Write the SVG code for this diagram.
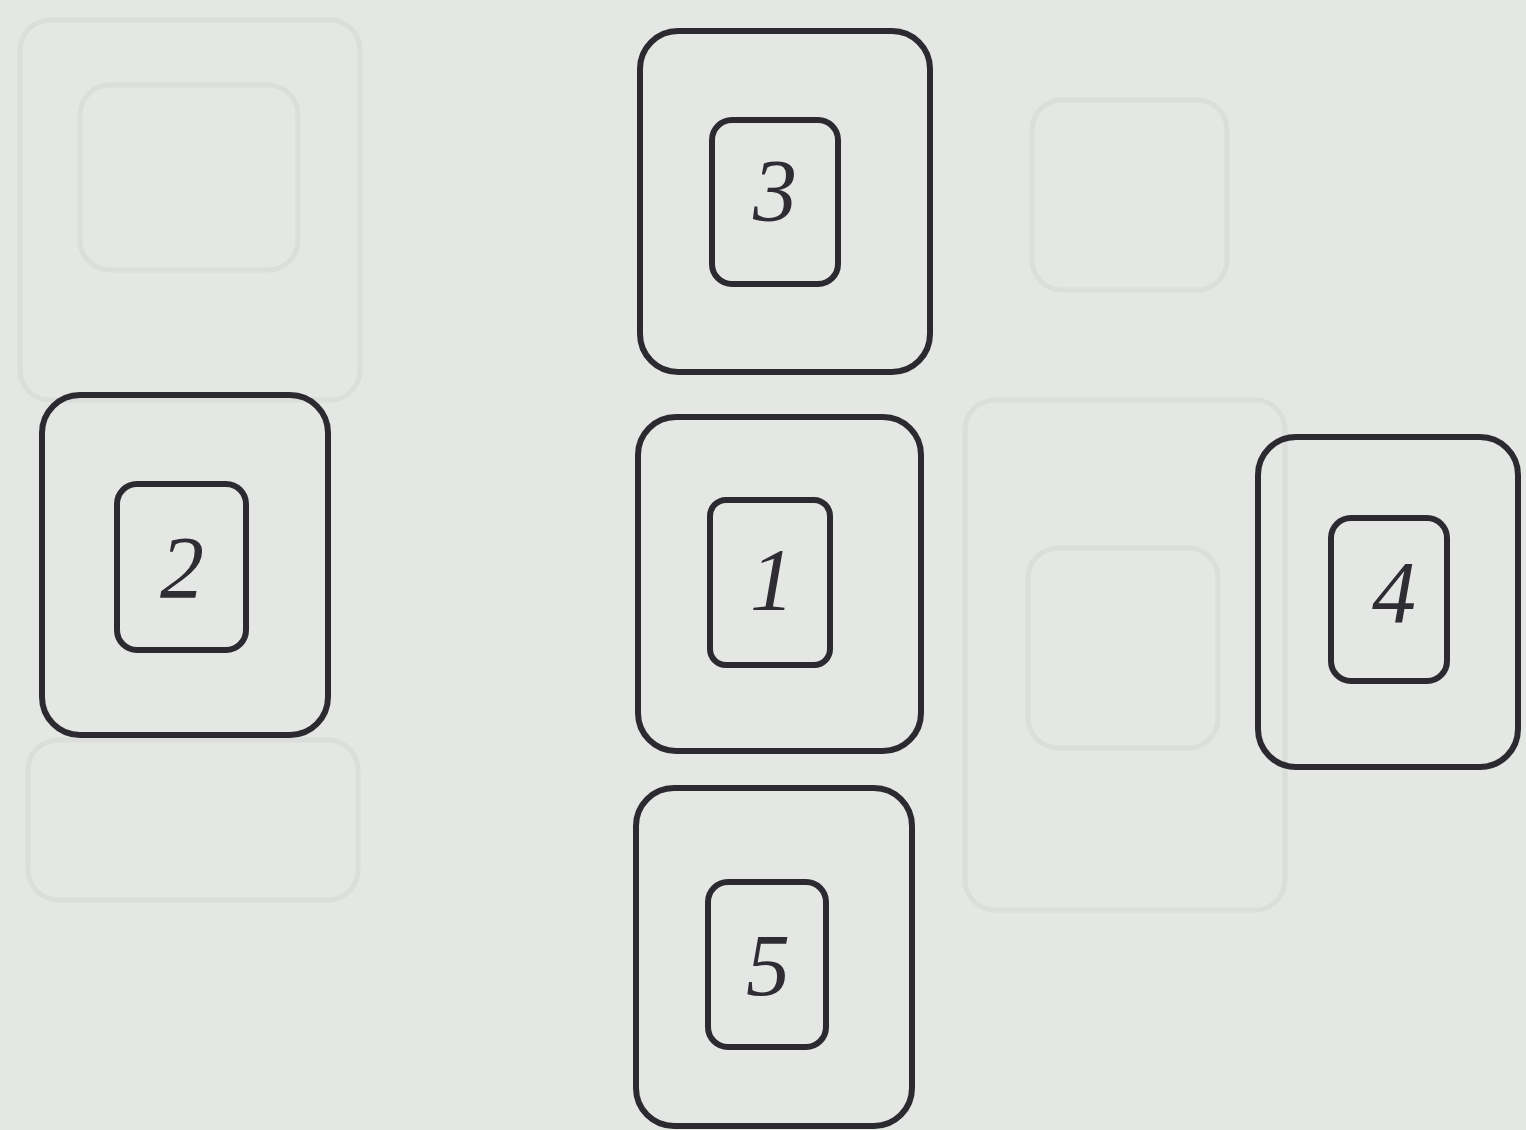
<svg xmlns="http://www.w3.org/2000/svg" width="1526" height="1130" viewBox="0 0 1526 1130">
<style>
.bg{fill:#e5e7e5}
.ghost{fill:none;stroke:#dcdedc;stroke-width:5}
.outer{fill:none;stroke:#2c2a30;stroke-width:6}
.inner{fill:none;stroke:#2c2a30;stroke-width:6}
.num{font-family:"Liberation Serif",serif;font-style:italic;font-size:88px;fill:#2f2c33;text-anchor:middle}
</style>
<rect class="bg" x="0" y="0" width="1526" height="1130"/>
<g id="ghosts">
<rect class="ghost" x="80" y="85" width="218" height="185" rx="30"/>
<rect class="ghost" x="1032" y="100" width="195" height="190" rx="30"/>
<rect class="ghost" x="1028" y="548" width="190" height="200" rx="30"/>
<rect class="ghost" x="20" y="20" width="340" height="380" rx="30"/>
<rect class="ghost" x="28" y="740" width="330" height="160" rx="30"/>
<rect class="ghost" x="965" y="400" width="320" height="510" rx="30"/>
</g>
<g id="connectors"></g>
<g id="card3">
<rect class="outer" x="640" y="31" width="290" height="341" rx="38"/>
<rect class="inner" x="712" y="120" width="126" height="164" rx="20"/>
<text class="num" x="775" y="220">3</text>
</g>
<g id="card2">
<rect class="outer" x="42" y="395" width="286" height="340" rx="38"/>
<rect class="inner" x="117" y="484" width="129" height="166" rx="20"/>
<text class="num" x="182" y="597">2</text>
</g>
<g id="card1">
<rect class="outer" x="638" y="417" width="283" height="334" rx="38"/>
<rect class="inner" x="710" y="500" width="120" height="165" rx="16"/>
<text class="num" x="772" y="609">1</text>
</g>
<g id="card4">
<rect class="outer" x="1258" y="437" width="260" height="330" rx="38"/>
<rect class="inner" x="1331" y="518" width="116" height="163" rx="20"/>
<text class="num" x="1394" y="622">4</text>
</g>
<g id="card5">
<rect class="outer" x="636" y="788" width="276" height="338" rx="38"/>
<rect class="inner" x="708" y="882" width="118" height="165" rx="20"/>
<text class="num" x="768" y="995">5</text>
</g>
</svg>
